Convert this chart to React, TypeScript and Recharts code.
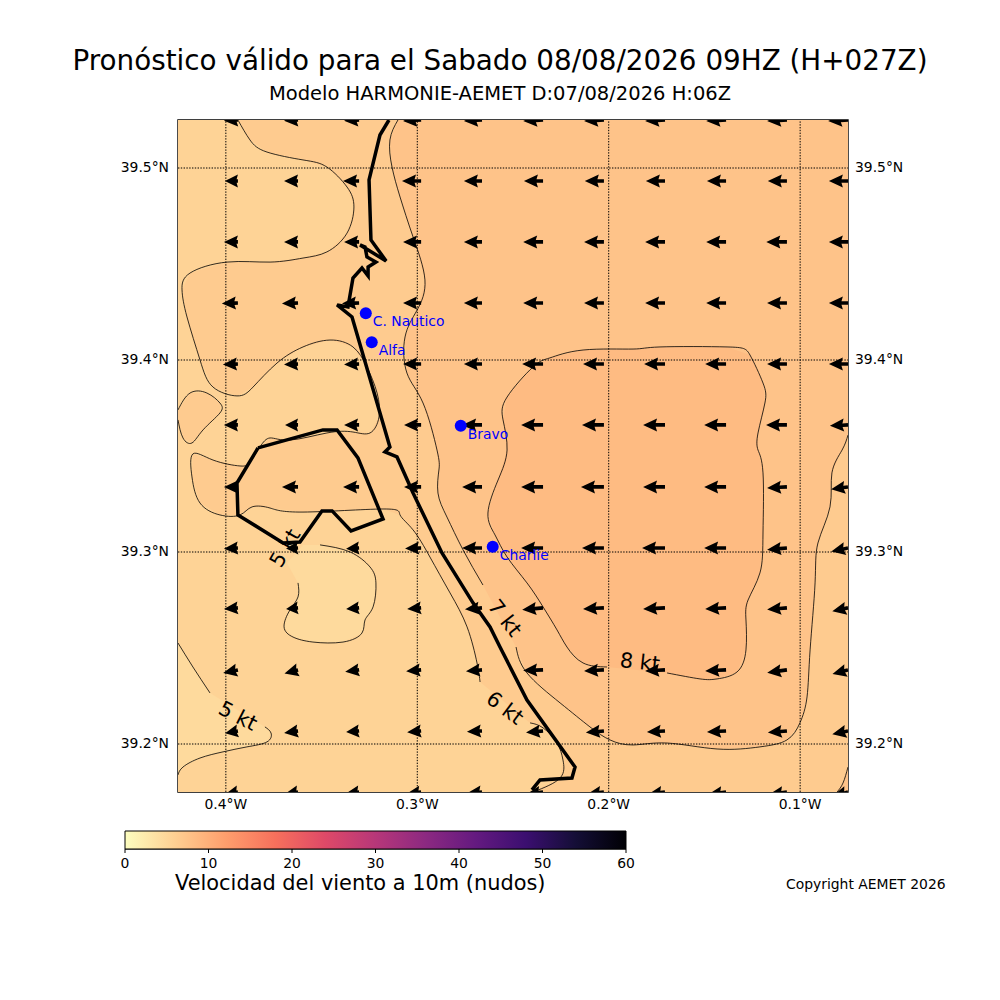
import React from 'react';
import { ScatterChart, Scatter, XAxis, YAxis, ReferenceArea } from 'recharts';

type P = { lon: number; lat: number };
const pts = (raw: number[][]): P[] => raw.map(([lon, lat]) => ({ lon, lat }));

const FONT = '"DejaVu Sans", sans-serif';

const lonTicks = [-0.4, -0.3, -0.2, -0.1];
const latTicks = [39.2, 39.3, 39.4, 39.5];
const cbarTicks = [0, 10, 20, 30, 40, 50, 60];
const cbarCorners = [{ v: 0, y: 0 }, { v: 60, y: 0 }, { v: 60, y: 1 }, { v: 0, y: 1 }];
const magmaStops = ['#FCFDBF', '#FECF92', '#FE9F6D', '#F7705C', '#DE4968', '#B73779', '#8C2981', '#641A80', '#3B0F70', '#140E36', '#000004'];

const band45 = '#FEDA9D';
const band56 = '#FED396';
const band67 = '#FECB8F';
const band78 = '#FEC389';
const band89 = '#FEBB82';

// 6 kt contour, broken at its label
const iso6a = pts([[-0.3937, 39.525], [-0.3874, 39.5146], [-0.3785, 39.5083], [-0.3597, 39.5042], [-0.3472, 39.5005], [-0.3367, 39.4901], [-0.3331, 39.4797], [-0.3367, 39.4661], [-0.3472, 39.4563], [-0.3597, 39.4531], [-0.3769, 39.451], [-0.3994, 39.451], [-0.4187, 39.4453], [-0.4229, 39.4365], [-0.4203, 39.4224], [-0.4135, 39.4], [-0.4067, 39.3859], [-0.3942, 39.3813], [-0.3858, 39.3859], [-0.3733, 39.3984], [-0.3597, 39.4068], [-0.3456, 39.4104], [-0.3336, 39.4068], [-0.3263, 39.3964], [-0.321, 39.3828], [-0.32, 39.3703], [-0.3247, 39.362], [-0.3336, 39.3625], [-0.3472, 39.362], [-0.3665, 39.3583], [-0.3769, 39.3594], [-0.3822, 39.3547], [-0.3874, 39.3469], [-0.3926, 39.3448], [-0.4067, 39.3479], [-0.4172, 39.3511], [-0.4177, 39.3391], [-0.4135, 39.3255], [-0.4031, 39.3193], [-0.3926, 39.3193], [-0.3863, 39.3235], [-0.3769, 39.3229], [-0.3597, 39.3208], [-0.3179, 39.3224], [-0.309, 39.3193], [-0.3022, 39.3115], [-0.2934, 39.2974], [-0.2829, 39.2787], [-0.274, 39.261], [-0.2688, 39.2422], [-0.2672, 39.2323]]);
const iso6b = pts([[-0.2411, 39.211], [-0.2343, 39.2084], [-0.227, 39.2005], [-0.2239, 39.1917], [-0.2254, 39.1823], [-0.2395, 39.175]]);
const low6Corners = pts([[-0.425, 39.175], [-0.425, 39.525]]);

// 7 kt contour
const iso7a = pts([[-0.3101, 39.525], [-0.3143, 39.5146], [-0.3132, 39.5005], [-0.309, 39.4849], [-0.3022, 39.4641], [-0.296, 39.4417], [-0.3001, 39.426], [-0.3064, 39.412], [-0.3054, 39.3932], [-0.297, 39.3776], [-0.2897, 39.3531], [-0.2887, 39.3427], [-0.2892, 39.3307], [-0.2845, 39.3182], [-0.2761, 39.3011], [-0.2657, 39.2828]]);
const iso7b = pts([[-0.2484, 39.2505], [-0.2427, 39.237], [-0.2254, 39.2214], [-0.2098, 39.2089], [-0.1993, 39.2021], [-0.1873, 39.1995], [-0.1695, 39.2005], [-0.1434, 39.1974], [-0.121, 39.1985], [-0.1069, 39.2021], [-0.1001, 39.211], [-0.0964, 39.2245], [-0.0948, 39.249], [-0.0922, 39.2839], [-0.0907, 39.3047], [-0.0844, 39.3235], [-0.0834, 39.3412], [-0.0781, 39.3531], [-0.075, 39.3609]]);
const high7Corners = pts([[-0.075, 39.525]]);
const iso7corner = pts([[-0.075, 39.188], [-0.0776, 39.1797], [-0.0807, 39.175]]);
const corner7Closure = pts([[-0.075, 39.175]]);

// 8 kt contour
const iso8 = pts([[-0.2009, 39.2401], [-0.2134, 39.2422], [-0.2218, 39.2505], [-0.227, 39.2594], [-0.2343, 39.2714], [-0.2427, 39.2839], [-0.2531, 39.2974], [-0.2594, 39.3089], [-0.2631, 39.3203], [-0.2578, 39.3375], [-0.2531, 39.3531], [-0.2552, 39.3688], [-0.2531, 39.3807], [-0.2395, 39.3964], [-0.2307, 39.4011], [-0.2134, 39.4052], [-0.1873, 39.4057], [-0.1732, 39.4068], [-0.1382, 39.4068], [-0.1262, 39.4026], [-0.1194, 39.388], [-0.1184, 39.3776], [-0.122, 39.362], [-0.122, 39.3531], [-0.1194, 39.3412], [-0.1194, 39.3099], [-0.121, 39.2891], [-0.1272, 39.275], [-0.1283, 39.2646], [-0.1283, 39.249], [-0.133, 39.2375], [-0.1434, 39.2339], [-0.1523, 39.2339], [-0.1695, 39.237]]);

// closed blob on the west edge
const isoWest = pts([[-0.425, 39.374], [-0.4187, 39.3828], [-0.4099, 39.3828], [-0.4031, 39.3776], [-0.4031, 39.3724], [-0.4119, 39.3636], [-0.4177, 39.3568], [-0.4224, 39.3594], [-0.425, 39.3688]]);

// 5 kt contours
const iso5centre = pts([[-0.3508, 39.3037], [-0.3351, 39.3], [-0.3247, 39.2922], [-0.3216, 39.2839], [-0.3231, 39.2714], [-0.3273, 39.2646], [-0.3289, 39.2578], [-0.3388, 39.2531], [-0.3545, 39.2531], [-0.3649, 39.2557], [-0.3696, 39.261], [-0.3665, 39.2698], [-0.3623, 39.2766], [-0.3623, 39.2839]]);
const centreGap = pts([[-0.3681, 39.2943], [-0.3597, 39.3037]]);
const iso5swA = pts([[-0.425, 39.2526], [-0.4172, 39.2401], [-0.4083, 39.2266]]);
const iso5swB = pts([[-0.3796, 39.2089], [-0.3764, 39.2057], [-0.3785, 39.2011], [-0.389, 39.1985], [-0.4015, 39.1959], [-0.4135, 39.1927], [-0.4224, 39.188], [-0.425, 39.1839]]);

const coast = pts([[-0.3148, 39.525], [-0.3195, 39.5172], [-0.3252, 39.4938], [-0.3242, 39.4625], [-0.3163, 39.4516], [-0.3299, 39.4599], [-0.3273, 39.4589], [-0.3263, 39.4537], [-0.3216, 39.451], [-0.3257, 39.4484], [-0.3257, 39.4438], [-0.3289, 39.4479], [-0.3336, 39.4427], [-0.3362, 39.4276], [-0.3419, 39.4287], [-0.3341, 39.4224], [-0.3143, 39.3547], [-0.3169, 39.3521], [-0.3106, 39.3495], [-0.3022, 39.3307], [-0.2871, 39.2995], [-0.2709, 39.2735], [-0.262, 39.261], [-0.2568, 39.2505], [-0.2427, 39.2229], [-0.2176, 39.188], [-0.2192, 39.1823], [-0.2359, 39.1813], [-0.2401, 39.1761]]);
const lagoon = pts([[-0.3832, 39.3542], [-0.3493, 39.3636], [-0.3419, 39.3636], [-0.331, 39.349], [-0.3179, 39.3172], [-0.3346, 39.311], [-0.3445, 39.3214], [-0.3498, 39.3214], [-0.3613, 39.3052], [-0.3701, 39.3047], [-0.3937, 39.3193], [-0.3942, 39.3359], [-0.3832, 39.3542]]);

const stations = [
  { name: 'C. Nautico', lon: -0.3269, lat: 39.4243 },
  { name: 'Alfa', lon: -0.3238, lat: 39.4092 },
  { name: 'Bravo', lon: -0.2773, lat: 39.3658 },
  { name: 'Charlie', lon: -0.2606, lat: 39.3027 },
];

const contourLabels = [
  { text: '5 kt', lon: -0.3691, lat: 39.3021, angle: -60 },
  { text: '5 kt', lon: -0.3937, lat: 39.2146, angle: 27 },
  { text: '6 kt', lon: -0.2542, lat: 39.2188, angle: 37 },
  { text: '7 kt', lon: -0.2542, lat: 39.2656, angle: 52 },
  { text: '8 kt', lon: -0.1837, lat: 39.2427, angle: 6 },
];

const windLons = [-0.3937, -0.3623, -0.3304, -0.298, -0.2662, -0.2343, -0.2025, -0.1706, -0.1387, -0.1069, -0.075];
const windLats = [39.525, 39.4932, 39.4615, 39.4297, 39.3979, 39.3662, 39.3339, 39.3021, 39.2709, 39.2386, 39.2068, 39.175];
// knots
const windSpeed = [
  [5.5, 5.5, 5.9, 7.1, 7.1, 7.8, 7.8, 7.8, 7.8, 7.8, 7.8],
  [5.1, 5.5, 6.3, 7.5, 7.1, 7.5, 7.5, 7.5, 7.5, 7.5, 7.5],
  [5.5, 5.5, 5.9, 7.1, 7.1, 7.8, 7.8, 7.8, 7.8, 8.1, 7.5],
  [6.3, 6.3, 6.7, 7.1, 7.1, 7.8, 7.8, 7.8, 7.8, 7.8, 7.5],
  [5.9, 5.5, 5.9, 7.1, 7.1, 8.2, 8.2, 8.2, 8.2, 7.8, 7.5],
  [5.5, 5.1, 5.9, 6.7, 7.8, 8.6, 8.6, 8.6, 8.6, 8.2, 7.1],
  [5.5, 6.3, 6.3, 6.7, 7.8, 8.6, 9.0, 8.6, 8.6, 7.8, 6.7],
  [5.5, 4.7, 5.1, 6.3, 7.8, 8.6, 8.6, 9.0, 8.6, 7.8, 6.7],
  [5.5, 4.7, 5.1, 5.5, 6.7, 8.2, 8.2, 8.6, 8.2, 7.8, 6.3],
  [5.9, 5.5, 5.5, 5.9, 6.3, 7.8, 7.8, 7.8, 8.2, 7.8, 6.3],
  [5.1, 5.5, 5.1, 5.5, 5.9, 6.7, 7.1, 7.1, 7.5, 7.5, 6.3],
  [5.1, 5.5, 5.5, 5.9, 5.9, 6.7, 6.7, 6.7, 7.1, 7.1, 6.3],
];
// degrees the arrow head drops below due west
const windTilt = [
  [3, 3, 3, 3, 3, 3, 3, 3, 3, 3, 3],
  [0, 0, 0, 0, 0, 0, 0, 0, 0, 0, 0],
  [0, 0, 0, 0, 0, 0, 0, 0, 0, 0, 0],
  [2, 2, 2, 0, 0, 0, 0, 0, 0, 0, 0],
  [2, 2, 2, 0, 0, 0, 0, 0, 0, 0, 0],
  [0, 0, 0, 0, 0, 0, 0, 0, 0, 0, 3],
  [0, 0, 0, 0, 0, 0, 0, 0, 0, 3, 8],
  [3, 3, 3, 2, 0, 0, 0, 0, 0, 5, 12],
  [5, 5, 5, 5, 5, 5, 3, 3, 3, 5, 12],
  [12, 15, 8, 5, 5, 2, 3, 3, 3, 8, 15],
  [10, 8, 5, 5, 3, 5, 5, 3, 3, 5, 12],
  [10, 10, 8, 8, 5, 8, 8, 8, 8, 8, 15],
];
const windPoints = windLats.flatMap((lat, r) =>
  windLons.map((lon, c) => ({ lon, lat, speed: windSpeed[r][c], tilt: windTilt[r][c] })),
);

const lonDomain: [number, number] = [-0.425, -0.075];
const latDomain: [number, number] = [39.175, 39.525];

const Nothing = () => null;

const filledPath = (color: string, stroke = 'none') => (props: any) => (
  <path
    d={'M' + props.points.map((p: any) => `${p.x},${p.y}`).join('L') + 'Z'}
    fill={color}
    stroke={stroke}
  />
);

const Region = (data: P[], color: string, key: string) => (
  <Scatter key={key} data={data} isAnimationActive={false} shape={Nothing} line={filledPath(color)} lineType="joint" />
);

const Contour = (data: P[], key: string) => (
  <Scatter
    key={key}
    data={data}
    isAnimationActive={false}
    shape={Nothing}
    line={{ stroke: '#000', strokeWidth: 0.8, fill: 'none' }}
    lineType="joint"
    lineJointType="natural"
  />
);

const Heavy = (data: P[], key: string) => (
  <Scatter
    key={key}
    data={data}
    isAnimationActive={false}
    shape={Nothing}
    line={{ stroke: '#000', strokeWidth: 3.5, fill: 'none' }}
    lineType="joint"
  />
);

// meridians and parallels have to sit above the filled bands
const Graticule = (data: P[], key: string) => (
  <Scatter
    key={key}
    data={data}
    isAnimationActive={false}
    shape={Nothing}
    line={{ stroke: '#000', strokeWidth: 1, strokeDasharray: '1.4 1.4', fill: 'none' }}
    lineType="joint"
  />
);

const WindArrow = (props: any) => {
  const { cx, cy, payload } = props;
  const len = payload.speed * 2.55;
  const head = Math.min(14, len);
  const notch = head * 0.9;
  const d = `M${-len},0 L${-len + head},-6.5 L${-len + notch},-1.8 L0,-1.8 L0,1.8 L${-len + notch},1.8 L${-len + head},6.5 Z`;
  return <path transform={`translate(${cx},${cy}) rotate(${-payload.tilt})`} d={d} fill="#000" />;
};

const StationMark = (props: any) => {
  const { cx, cy, payload } = props;
  return (
    <g>
      <circle cx={cx} cy={cy} r={6} fill="#0000FF" />
      <text x={cx + 7} y={cy + 13} fontSize={13.9} fontFamily={FONT} fill="#0000FF">{payload.name}</text>
    </g>
  );
};

const ContourLabel = (props: any) => {
  const { cx, cy, payload } = props;
  return (
    <text
      transform={`translate(${cx},${cy}) rotate(${payload.angle})`}
      textAnchor="middle"
      dominantBaseline="central"
      fontSize={20.8}
      fontFamily={FONT}
      fill="#000"
    >
      {payload.text}
    </text>
  );
};

const tickStyle = { fontSize: 13.9, fontFamily: FONT, fill: '#000' };
const fmtLon = (v: number) => `${Math.abs(v).toFixed(1)}°W`;
const fmtLat = (v: number) => `${v.toFixed(1)}°N`;

const textAt = (style: React.CSSProperties): React.CSSProperties => ({
  position: 'absolute',
  fontFamily: FONT,
  color: '#000',
  whiteSpace: 'nowrap',
  lineHeight: 1,
  ...style,
});

export default function App() {
  return (
    <div style={{ position: 'absolute', left: 0, top: 0, width: 1000, height: 1000, background: '#fff', overflow: 'hidden' }}>
      <div style={textAt({ left: 0, width: 1000, top: 47, textAlign: 'center', fontSize: 27.8 })}>
        Pronóstico válido para el Sabado 08/08/2026 09HZ (H+027Z)
      </div>
      <div style={textAt({ left: 0, width: 1000, top: 84, textAlign: 'center', fontSize: 19.5 })}>
        Modelo HARMONIE-AEMET D:07/08/2026 H:06Z
      </div>

      <ScatterChart width={1000} height={1000} margin={{ top: 120, left: 118, right: 92, bottom: 178 }} style={{ position: 'absolute', left: 0, top: 0 }}>
        <XAxis dataKey="lon" type="number" domain={lonDomain} allowDataOverflow ticks={lonTicks} interval={0} tickFormatter={fmtLon} tick={tickStyle} tickLine={false} tickSize={0} tickMargin={7} height={30} axisLine={false} />
        <YAxis dataKey="lat" type="number" domain={latDomain} allowDataOverflow ticks={latTicks} interval={0} tickFormatter={fmtLat} tick={{ ...tickStyle, dy: -1 }} tickLine={false} tickSize={0} tickMargin={9} width={60} axisLine={false} />
        <YAxis yAxisId="right" orientation="right" type="number" domain={latDomain} allowDataOverflow ticks={latTicks} interval={0} tickFormatter={fmtLat} tick={{ ...tickStyle, dy: -1 }} tickLine={false} tickSize={0} tickMargin={7} width={60} axisLine={false} />

        {Region(pts([[-0.425, 39.175], [-0.075, 39.175], [-0.075, 39.525], [-0.425, 39.525]]), band67, 'base')}
        {Region([...iso6a, ...iso6b, ...low6Corners], band56, 'low6')}
        {Region(isoWest, band67, 'west')}
        {Region([...iso5centre, ...centreGap], band45, 'centre5')}
        {Region([...iso5swA, ...iso5swB], band45, 'sw5')}
        {Region([...iso7a, ...iso7b, ...high7Corners], band78, 'high7')}
        {Region([...iso7corner, ...corner7Closure], band78, 'corner7')}
        {Region(iso8, band89, 'high8')}

        {lonTicks.map((lon) => Graticule([{ lon, lat: latDomain[0] }, { lon, lat: latDomain[1] }], `mer${lon}`))}
        {latTicks.map((lat) => Graticule([{ lon: lonDomain[0], lat }, { lon: lonDomain[1], lat }], `par${lat}`))}

        {Contour(iso6a, 'c6a')}
        {Contour(iso6b, 'c6b')}
        {Contour(iso7a, 'c7a')}
        {Contour(iso7b, 'c7b')}
        {Contour(iso7corner, 'c7c')}
        {Contour(iso8, 'c8')}
        {Contour(isoWest, 'cw')}
        {Contour(iso5centre, 'c5c')}
        {Contour(iso5swA, 'c5a')}
        {Contour(iso5swB, 'c5b')}

        <Scatter data={contourLabels} isAnimationActive={false} shape={ContourLabel} />
        <Scatter data={windPoints} isAnimationActive={false} shape={WindArrow} />
        {Heavy(coast, 'coast')}
        {Heavy(lagoon, 'lagoon')}
        <Scatter data={stations} isAnimationActive={false} shape={StationMark} />
        <ReferenceArea x1={lonDomain[0]} x2={lonDomain[1]} y1={latDomain[0]} y2={latDomain[1]} fill="none" stroke="#000" strokeWidth={1.4} ifOverflow="visible" />
      </ScatterChart>

      <ScatterChart width={560} height={60} margin={{ top: 11, left: 25, right: 34, bottom: 1 }} style={{ position: 'absolute', left: 100, top: 820 }}>
        <defs>
          <linearGradient id="magmaR" x1="0" y1="0" x2="1" y2="0">
            {magmaStops.map((c, i) => (
              <stop key={c} offset={i / (magmaStops.length - 1)} stopColor={c} />
            ))}
          </linearGradient>
        </defs>
        <XAxis dataKey="v" type="number" domain={[0, 60]} ticks={cbarTicks} interval={0} tick={tickStyle} tickSize={4} tickLine={{ stroke: '#000' }} tickMargin={5} height={30} axisLine={{ stroke: '#000' }} />
        <YAxis dataKey="y" type="number" domain={[0, 1]} hide />
        <Scatter data={cbarCorners} isAnimationActive={false} shape={Nothing} line={filledPath('url(#magmaR)', '#000')} lineType="joint" />
      </ScatterChart>

      <div style={textAt({ left: 175, top: 873, fontSize: 20.9 })}>Velocidad del viento a 10m (nudos)</div>
      <div style={textAt({ left: 786, top: 878, fontSize: 13.9 })}>Copyright AEMET 2026</div>
    </div>
  );
}
